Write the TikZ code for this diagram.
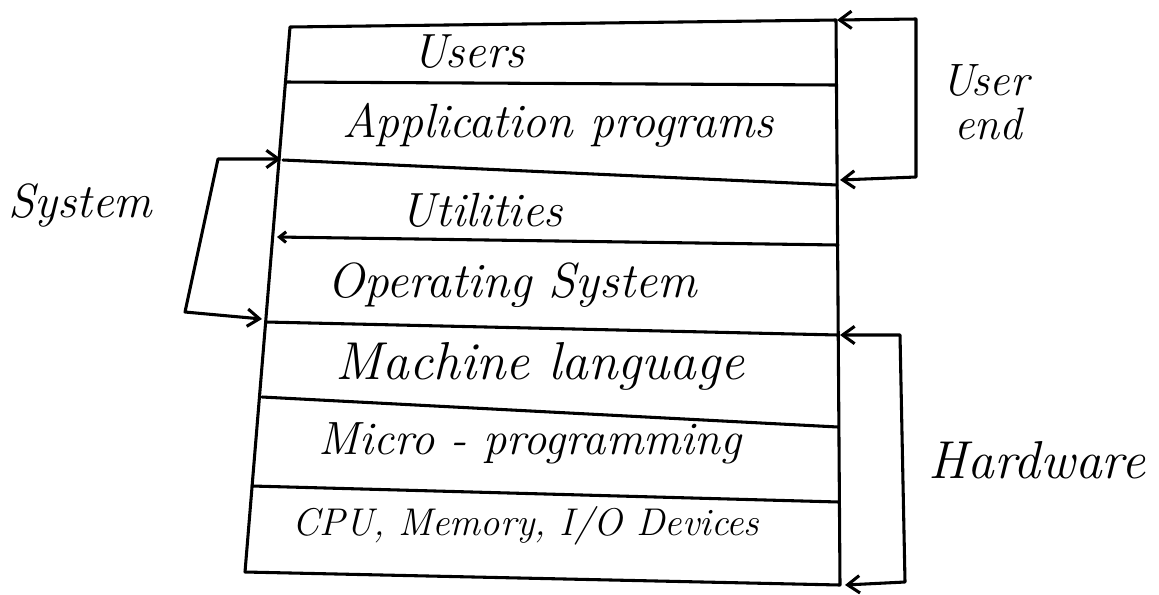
\documentclass[tikz,border=0pt]{standalone}
\usetikzlibrary{arrows.meta}
\begin{document}
\begin{tikzpicture}[x=0.75pt,y=-0.75pt,
  ink/.style={line width=2.3pt,line cap=round,line join=round},
  bracket/.style={ink,{Straight Barb[length=9pt,width=13pt]}-{Straight Barb[length=9pt,width=13pt]}},
  layertext/.style={font=\fontsize{36}{38}\selectfont\itshape,inner sep=0pt},
  sidetext/.style={font=\fontsize{36}{38}\selectfont\itshape,inner sep=0pt,align=left}]
\useasboundingbox (0,0) rectangle (1159,594);
% box corners
\coordinate (TL) at (290,27);
\coordinate (TR) at (836,20);
\coordinate (BL) at (245,572);
\coordinate (BR) at (840,585);
% layer boundaries
\coordinate (b1l) at (286,82);  \coordinate (b1r) at (836,85);
\coordinate (b2l) at (283,160); \coordinate (b2r) at (837,185);
\coordinate (b3l) at (277,237); \coordinate (b3r) at (838,245);
\coordinate (b4l) at (266,322); \coordinate (b4r) at (838,335);
\coordinate (b5l) at (262,397); \coordinate (b5r) at (838,427);
\coordinate (b6l) at (252,486); \coordinate (b6r) at (839,502);
% outline
\draw[ink] (TR) -- (TL) -- (BL) -- (BR) -- cycle;
\draw[ink] (b1l) -- (b1r);
\draw[ink] (b2l) -- (b2r);
\draw[ink,{Straight Barb[length=5pt,width=8pt]}-] (b3l) -- (b3r);
\draw[ink] (b4l) -- (b4r);
\draw[ink] (b5l) -- (b5r);
\draw[ink] (b6l) -- (b6r);
% layer labels
\node[layertext] (users) at (469,52) {Users};
\node[layertext] (apps) at (558,125) {Application programs};
\node[layertext] (util) at (482,210) {Utilities};
\node[layertext,font=\fontsize{37}{38}\selectfont\itshape] (os) at (512,285) {Operating System};
\node[layertext,font=\fontsize{40}{40}\selectfont\itshape] (ml) at (540,366) {Machine language};
\node[layertext,font=\fontsize{35}{38}\selectfont\itshape] (micro) at (530,443) {Micro - programming};
\node[layertext,font=\fontsize{29}{30}\selectfont\itshape] (cpu) at (526,526) {CPU, Memory, I/O Devices};
% side labels
\node[sidetext,font=\fontsize{34}{30}\selectfont\itshape] (userend) at (985,102) {User\\[3pt]\hspace*{10pt}end};
\node[sidetext] (system) at (80,205) {System};
\node[sidetext,font=\fontsize{40}{40}\selectfont\itshape] (hardware) at (1037,460) {Hardware};
% brackets
\coordinate (ueTop) at (837,20);
\coordinate (ueBot) at (840,180);
\coordinate (ueA) at (916,19);
\coordinate (ueB) at (916,177);
\draw[bracket] (ueTop) -- (ueA) -- (ueB) -- (ueBot);
\coordinate (sTop) at (281,159);
\coordinate (sBot) at (262,319);
\coordinate (sA) at (218,159);
\coordinate (sB) at (185,312);
\draw[bracket] (sTop) -- (sA) -- (sB) -- (sBot);
\coordinate (hTop) at (840,335);
\coordinate (hBot) at (845,585);
\coordinate (hA) at (900,335);
\coordinate (hB) at (905,582);
\draw[bracket] (hTop) -- (hA) -- (hB) -- (hBot);
\end{tikzpicture}
\end{document}
